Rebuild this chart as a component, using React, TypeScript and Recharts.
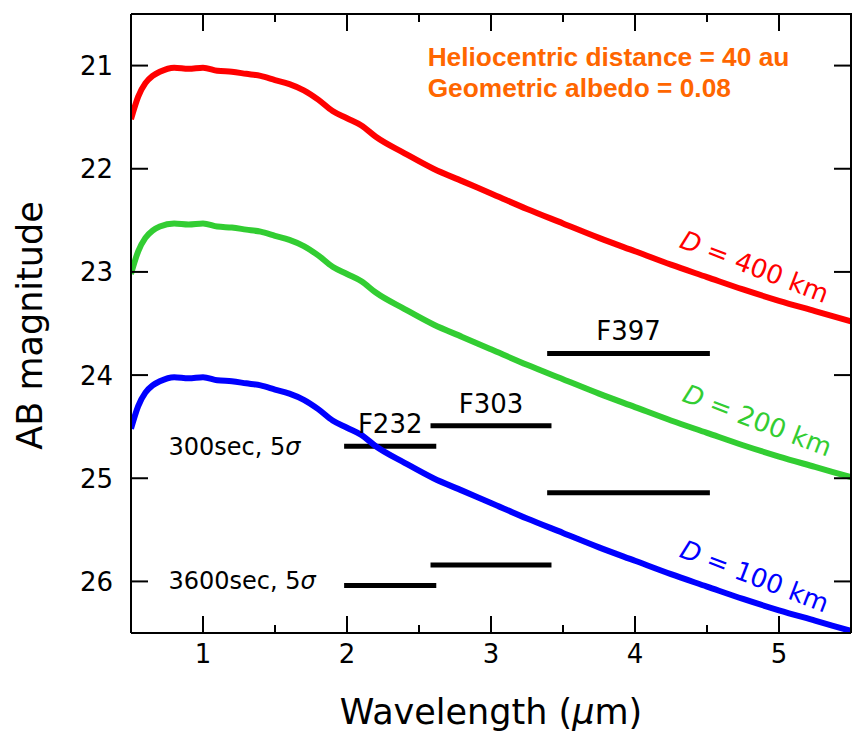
import React from "react"
import { LineChart, Line, XAxis, YAxis, ReferenceLine, ReferenceDot } from "recharts"

// ── data ─────────────────────────────────────────────────────────────────────

const wavelength = [
  0.5, 0.55, 0.6, 0.65, 0.7, 0.8, 0.9, 1.0, 1.1, 1.2, 1.3, 1.4, 1.5, 1.6, 1.7, 1.8, 1.9,
  2.0, 2.1, 2.2, 2.4, 2.6, 2.8, 3.0, 3.25, 3.5, 3.75, 4.0, 4.25, 4.5, 4.75, 5.0, 5.25, 5.5,
]
const mag400 = [
  21.52, 21.30, 21.17, 21.10, 21.06, 21.02, 21.03, 21.02, 21.05, 21.06, 21.08, 21.10, 21.14,
  21.18, 21.24, 21.33, 21.44, 21.51, 21.58, 21.69, 21.85, 22.00, 22.12, 22.24, 22.39, 22.53,
  22.67, 22.80, 22.93, 23.05, 23.17, 23.28, 23.38, 23.48,
]
const mag200 = [
  23.02, 22.80, 22.67, 22.60, 22.56, 22.53, 22.54, 22.53, 22.56, 22.57, 22.59, 22.61, 22.65,
  22.69, 22.75, 22.84, 22.95, 23.02, 23.09, 23.20, 23.36, 23.51, 23.63, 23.75, 23.90, 24.04,
  24.18, 24.31, 24.44, 24.56, 24.68, 24.79, 24.89, 24.99,
]
const mag100 = [
  24.52, 24.30, 24.17, 24.10, 24.06, 24.02, 24.03, 24.02, 24.05, 24.06, 24.08, 24.10, 24.14,
  24.18, 24.24, 24.33, 24.44, 24.51, 24.58, 24.69, 24.85, 25.00, 25.12, 25.24, 25.39, 25.53,
  25.67, 25.80, 25.93, 26.05, 26.17, 26.28, 26.38, 26.48,
]

const filterNames = ["F232", "F303", "F397"]
const filterStart = [1.98, 2.58, 3.39]
const filterEnd = [2.62, 3.42, 4.52]
const limit300 = [24.69, 24.49, 23.79]
const limit3600 = [26.04, 25.84, 25.14]

const exposures = ["300sec", "3600sec"]
const exposureX = [0.76, 0.76]
const exposureY = [24.69, 25.99]

const diameters = [400, 200, 100]
const diameterColors = ["#ff0000", "#32cd32", "#0000ff"]
const diameterX = [4.83, 4.85, 4.83]
const diameterY = [22.95, 24.44, 25.95]

const xDomain = [0.5, 5.5]
const yDomain = [20.5, 26.5]
const xTicks = [1, 1.5, 2, 2.5, 3, 3.5, 4, 4.5, 5]
const yTicks = [21, 22, 23, 24, 25, 26]

const chartData = wavelength.map((w, i) => ({
  w,
  d400: mag400[i],
  d200: mag200[i],
  d100: mag100[i],
}))

// ── layout / styling ─────────────────────────────────────────────────────────

const W = 852
const H = 731
const TOP = 14
const LEFT = 131
const RIGHT = 1
const BOTTOM = 98
const PLOT_W = W - LEFT - RIGHT
const PLOT_H = H - TOP - BOTTOM

const FONT = "DejaVu Sans"
const tickText = { fontFamily: FONT, fontSize: 26, fill: "#000" }
const MAJOR = 17
const MINOR = 8

function BottomTick(props: any) {
  const { x, y, payload } = props
  const len = Number.isInteger(payload.value) ? MAJOR : MINOR
  return (
    <g>
      <line x1={x} x2={x} y1={y} y2={y - len} stroke="#000" strokeWidth={2} />
      {len === MAJOR && (
        <text x={x} y={y + 30} textAnchor="middle" {...tickText}>
          {payload.value}
        </text>
      )}
    </g>
  )
}

function LeftTick(props: any) {
  const { x, y, payload } = props
  return (
    <g>
      <line x1={x} x2={x + MAJOR} y1={y} y2={y} stroke="#000" strokeWidth={2} />
      <text x={x - 18} y={y + 9.5} textAnchor="end" {...tickText}>
        {payload.value}
      </text>
    </g>
  )
}

// ── top / right edges of the box, mirroring the bottom / left axes ───────────

const px = (v: number) => LEFT + ((v - xDomain[0]) / (xDomain[1] - xDomain[0])) * PLOT_W
const py = (v: number) => TOP + ((v - yDomain[0]) / (yDomain[1] - yDomain[0])) * PLOT_H

function FrameOverlay() {
  const right = LEFT + PLOT_W
  return (
    <svg
      width={W}
      height={H}
      style={{ position: "absolute", left: 0, top: 0, pointerEvents: "none" }}
    >
      <line x1={LEFT} x2={right + 1} y1={TOP} y2={TOP} stroke="#000" strokeWidth={2} />
      <line x1={right} x2={right} y1={TOP} y2={TOP + PLOT_H} stroke="#000" strokeWidth={2} />
      {xTicks.map(t => (
        <line
          key={`t-${t}`}
          x1={px(t)}
          x2={px(t)}
          y1={TOP}
          y2={TOP + (Number.isInteger(t) ? MAJOR : MINOR)}
          stroke="#000"
          strokeWidth={2}
        />
      ))}
      {yTicks.map(t => (
        <line
          key={`r-${t}`}
          x1={right}
          x2={right - MAJOR}
          y1={py(t)}
          y2={py(t)}
          stroke="#000"
          strokeWidth={2}
        />
      ))}
    </svg>
  )
}

const axisLine = { stroke: "#000", strokeWidth: 2 }

export default function App() {
  return (
    <div style={{ position: "absolute", left: 0, top: 0, width: W, height: H, background: "#fff" }}>
      <LineChart
        width={W}
        height={H}
        data={chartData}
        margin={{ top: TOP, right: RIGHT, bottom: 0, left: 0 }}
      >
        <XAxis
          dataKey="w"
          type="number"
          domain={xDomain}
          ticks={xTicks}
          allowDataOverflow
          height={BOTTOM}
          tickSize={0}
          tickMargin={0}
          tickLine={false}
          axisLine={axisLine}
          tick={<BottomTick />}
          interval={0}
          label={(p: any) => {
            const vb = p.viewBox
            return (
              <text
                x={vb.x + vb.width / 2}
                y={vb.y + 91}
                textAnchor="middle"
                fontFamily={FONT}
                fontSize={35}
                fill="#000"
              >
                Wavelength (<tspan fontStyle="italic">μ</tspan>m)
              </text>
            )
          }}
        />
        <YAxis
          type="number"
          domain={yDomain}
          reversed
          ticks={yTicks}
          allowDataOverflow
          width={LEFT}
          tickSize={0}
          tickMargin={0}
          tickLine={false}
          axisLine={axisLine}
          tick={<LeftTick />}
          interval={0}
          label={(p: any) => {
            const vb = p.viewBox
            const cy = vb.y + vb.height / 2 + 2
            return (
              <text
                x={42}
                y={cy}
                transform={`rotate(-90, 42, ${cy})`}
                textAnchor="middle"
                fontFamily={FONT}
                fontSize={35}
                fill="#000"
              >
                AB magnitude
              </text>
            )
          }}
        />

        {/* 5-sigma limits, 300 s and 3600 s */}
        {filterNames.map((f, i) => (
          <ReferenceLine
            key={`s-${f}`}
            segment={[
              { x: filterStart[i], y: limit300[i] },
              { x: filterEnd[i], y: limit300[i] },
            ]}
            stroke="#000"
            strokeWidth={5}
          />
        ))}
        {filterNames.map((f, i) => (
          <ReferenceLine
            key={`l-${f}`}
            segment={[
              { x: filterStart[i], y: limit3600[i] },
              { x: filterEnd[i], y: limit3600[i] },
            ]}
            stroke="#000"
            strokeWidth={5}
          />
        ))}

        {/* filter names above the 300 s bars */}
        {filterNames.map((f, i) => (
          <ReferenceDot
            key={`n-${f}`}
            x={(filterStart[i] + filterEnd[i]) / 2}
            y={limit300[i]}
            r={0}
            fill="none"
            stroke="none"
            label={(p: any) => (
              <text
                x={p.viewBox.x}
                y={p.viewBox.y - 13}
                textAnchor="middle"
                fontFamily={FONT}
                fontSize={26}
                fill="#000"
              >
                {f}
              </text>
            )}
          />
        ))}

        {exposures.map((e, i) => (
          <ReferenceDot
            key={`e-${e}`}
            x={exposureX[i]}
            y={exposureY[i]}
            r={0}
            fill="none"
            stroke="none"
            label={(p: any) => (
              <text
                x={p.viewBox.x}
                y={p.viewBox.y + 8.5}
                textAnchor="start"
                fontFamily={FONT}
                fontSize={24}
                fill="#000"
              >
                {e}, 5<tspan fontStyle="italic">σ</tspan>
              </text>
            )}
          />
        ))}

        {diameters.map((d, i) => (
          <ReferenceDot
            key={`d-${d}`}
            x={diameterX[i]}
            y={diameterY[i]}
            r={0}
            fill="none"
            stroke="none"
            label={(p: any) => {
              const cx = p.viewBox.x
              const cy = p.viewBox.y
              return (
                <text
                  x={cx}
                  y={cy + 9}
                  transform={`rotate(21, ${cx}, ${cy})`}
                  textAnchor="middle"
                  fontFamily={FONT}
                  fontSize={26}
                  fill={diameterColors[i]}
                >
                  <tspan fontStyle="italic">D</tspan> = {d} km
                </text>
              )
            }}
          />
        ))}

        <ReferenceDot
          x={2.56}
          y={21.0}
          r={0}
          fill="none"
          stroke="none"
          label={(p: any) => (
            <text
              x={p.viewBox.x}
              y={p.viewBox.y}
              fontFamily="Liberation Sans"
              fontWeight="bold"
              fontSize={26.3}
              fill="#ff6600"
            >
              <tspan x={p.viewBox.x} dy={0}>Heliocentric distance = 40 au</tspan>
              <tspan x={p.viewBox.x} dy={31.5}>Geometric albedo = 0.08</tspan>
            </text>
          )}
        />

        <Line
          dataKey="d400"
          stroke="#ff0000"
          strokeWidth={6}
          dot={false}
          type="monotone"
          isAnimationActive={false}
        />
        <Line
          dataKey="d200"
          stroke="#32cd32"
          strokeWidth={6}
          dot={false}
          type="monotone"
          isAnimationActive={false}
        />
        <Line
          dataKey="d100"
          stroke="#0000ff"
          strokeWidth={6}
          dot={false}
          type="monotone"
          isAnimationActive={false}
        />
      </LineChart>
      <FrameOverlay />
    </div>
  )
}
